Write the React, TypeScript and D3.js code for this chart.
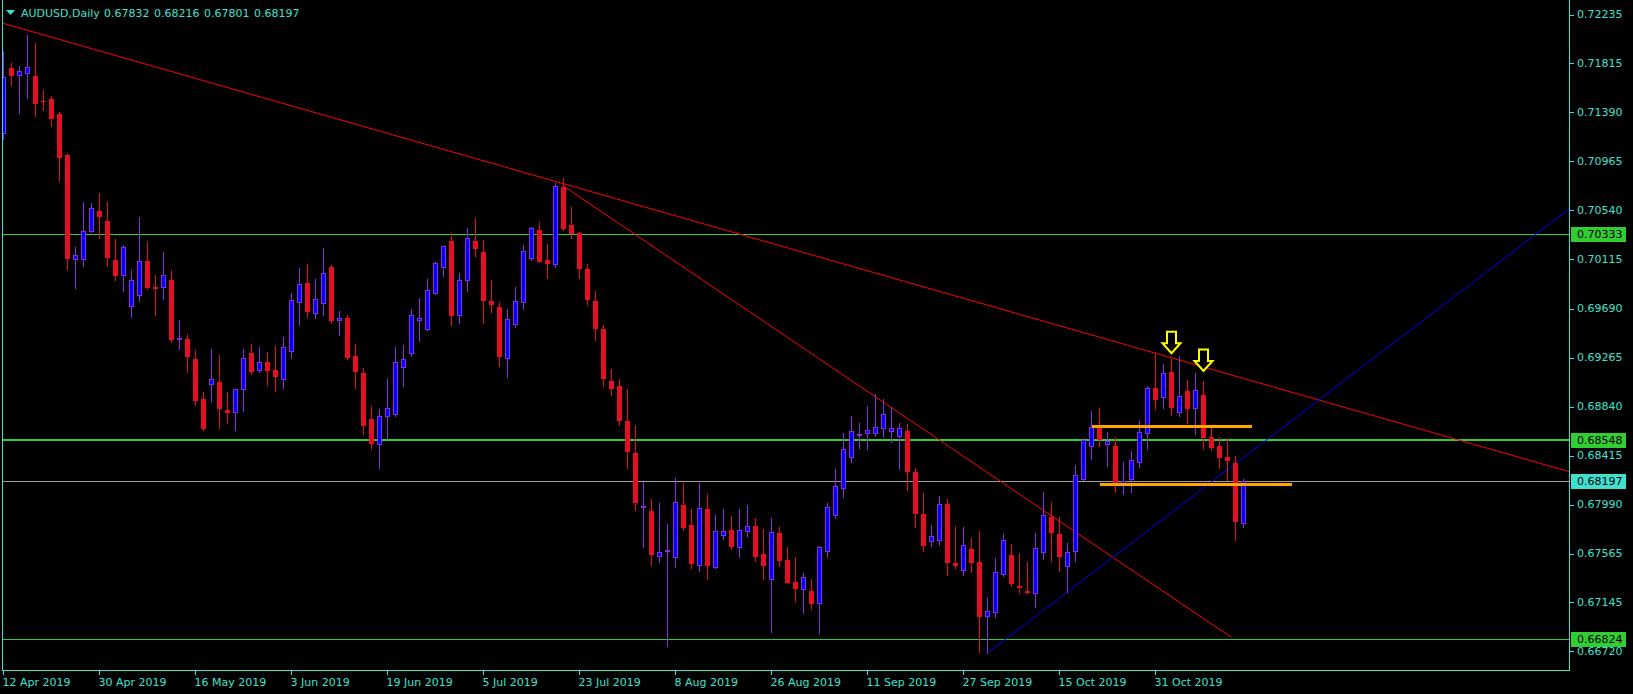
import React from "react";
import * as d3 from "d3";

// ---- Data (AUDUSD daily) ----
const symbolTitle = "AUDUSD,Daily";
const headerValues = [0.67832, 0.68216, 0.67801, 0.68197];

const opens = [
  0.71208, 0.71771, 0.71716, 0.71728, 0.71705, 0.71492, 0.71505, 0.71375, 0.7102, 0.70116,
  0.70122, 0.70359, 0.70535, 0.70448, 0.7011, 0.69978, 0.69709, 0.6981, 0.70102, 0.69874,
  0.69874, 0.69937, 0.69426, 0.69423, 0.69253, 0.68906, 0.69033, 0.69051, 0.68811, 0.68791,
  0.68995, 0.69302, 0.69155, 0.69224, 0.69157, 0.69082, 0.69319, 0.69744, 0.69908, 0.69654,
  0.69735, 0.70047, 0.69588, 0.69605, 0.69276, 0.69129, 0.6873, 0.68514, 0.68756, 0.68773,
  0.69186, 0.69302, 0.69588, 0.69515, 0.69824, 0.70052, 0.70275, 0.69636, 0.69935, 0.70275,
  0.7018, 0.69755, 0.69703, 0.69264, 0.69558, 0.69744, 0.7013, 0.7037, 0.7011, 0.70078,
  0.70743, 0.70414, 0.70344, 0.70032, 0.69755, 0.69513, 0.69062, 0.69019, 0.68715, 0.68438,
  0.67973, 0.67936, 0.67548, 0.67589, 0.6754, 0.67988, 0.67814, 0.6747, 0.67953, 0.67453,
  0.6773, 0.67771, 0.67626, 0.6776, 0.67806, 0.67563, 0.67349, 0.67745, 0.67514, 0.67323,
  0.67256, 0.67243, 0.67136, 0.67592, 0.67904, 0.68132, 0.68401, 0.68597, 0.68609, 0.68609,
  0.68652, 0.68631, 0.68583, 0.68626, 0.68271, 0.67907, 0.67678, 0.67682, 0.67994, 0.67483,
  0.67422, 0.67604, 0.67494, 0.67029, 0.67058, 0.67394, 0.67552, 0.67283, 0.6724, 0.67223,
  0.67578, 0.67881, 0.67734, 0.67462, 0.67586, 0.68215, 0.68501, 0.68666, 0.68514, 0.68499,
  0.68181, 0.68215, 0.68363, 0.68609, 0.68999, 0.68921, 0.69137, 0.68791, 0.68973, 0.68825,
  0.68938, 0.68575, 0.68496, 0.68401, 0.68349, 0.67832,
];
const highs = [
  0.71921, 0.71815, 0.71791, 0.7206, 0.71993, 0.71583, 0.71529, 0.71393, 0.71025, 0.70223,
  0.70613, 0.70604, 0.70691, 0.70613, 0.70292, 0.7024, 0.70024, 0.70483, 0.70266, 0.6998,
  0.7018, 0.70024, 0.69591, 0.69469, 0.69331, 0.68967, 0.69339, 0.69287, 0.68964, 0.68995,
  0.69339, 0.69383, 0.69357, 0.69313, 0.69365, 0.69443, 0.69822, 0.70041, 0.70076, 0.69946,
  0.70214, 0.70064, 0.69669, 0.69634, 0.69383, 0.69172, 0.68845, 0.68817, 0.69088, 0.69357,
  0.69374, 0.69686, 0.69781, 0.69946, 0.7009, 0.70229, 0.70344, 0.69998, 0.70388, 0.70474,
  0.70284, 0.69937, 0.69746, 0.69686, 0.69876, 0.7024, 0.70394, 0.70442, 0.70249, 0.70775,
  0.70821, 0.7057, 0.70353, 0.70076, 0.69842, 0.69547, 0.69166, 0.69079, 0.68993, 0.68681,
  0.6819, 0.6804, 0.68005, 0.67823, 0.68222, 0.68178, 0.67953, 0.68178, 0.68083, 0.67901,
  0.67953, 0.67892, 0.67953, 0.67988, 0.67875, 0.6778, 0.67875, 0.67797, 0.67626, 0.6754,
  0.67399, 0.67349, 0.67632, 0.68005, 0.683, 0.68612, 0.68759, 0.68696, 0.68845, 0.68949,
  0.68904, 0.68834, 0.68696, 0.68687, 0.68308, 0.68089, 0.67814, 0.68066, 0.68037, 0.67806,
  0.67797, 0.67702, 0.6776, 0.67179, 0.67526, 0.67734, 0.6765, 0.67569, 0.67491, 0.67743,
  0.68098, 0.68011, 0.67881, 0.67656, 0.68332, 0.68566, 0.68802, 0.68825, 0.68618, 0.68575,
  0.68358, 0.68455, 0.68715, 0.69016, 0.69293, 0.69207, 0.6925, 0.69279, 0.69068, 0.69129,
  0.69062, 0.68661, 0.68575, 0.68566, 0.6841, 0.68216,
];
const lows = [
  0.71156, 0.71627, 0.71387, 0.71517, 0.71361, 0.7141, 0.71274, 0.70797, 0.70035, 0.6987,
  0.70061, 0.7035, 0.70304, 0.70061, 0.6994, 0.69842, 0.69619, 0.69758, 0.69856, 0.69636,
  0.69775, 0.69403, 0.69339, 0.69143, 0.68854, 0.68638, 0.68891, 0.68657, 0.68701, 0.68638,
  0.68805, 0.69125, 0.69143, 0.69027, 0.68978, 0.69004, 0.69264, 0.69547, 0.69619, 0.6961,
  0.69636, 0.69567, 0.69463, 0.6925, 0.69004, 0.68605, 0.68476, 0.68311, 0.68562, 0.68761,
  0.69021, 0.69281, 0.69411, 0.69504, 0.69816, 0.69972, 0.6955, 0.69567, 0.69844, 0.70148,
  0.69565, 0.6966, 0.69192, 0.69099, 0.69532, 0.69688, 0.70113, 0.70096, 0.69957, 0.70052,
  0.7037, 0.70304, 0.69957, 0.69723, 0.69417, 0.69021, 0.68941, 0.68681, 0.68311, 0.67944,
  0.67626, 0.67468, 0.67496, 0.66769, 0.67453, 0.67774, 0.67445, 0.67419, 0.67349, 0.67445,
  0.67696, 0.67609, 0.6754, 0.67722, 0.67505, 0.67349, 0.6689, 0.67462, 0.67315, 0.67159,
  0.67055, 0.67089, 0.66876, 0.67535, 0.67878, 0.6806, 0.68363, 0.68484, 0.68476, 0.68588,
  0.68579, 0.68536, 0.68302, 0.6812, 0.678, 0.67592, 0.67635, 0.67644, 0.67384, 0.67445,
  0.67384, 0.6741, 0.66717, 0.66703, 0.6702, 0.67375, 0.67289, 0.67225, 0.67223, 0.67101,
  0.67522, 0.67505, 0.67419, 0.67236, 0.67505, 0.68207, 0.68389, 0.68501, 0.68328, 0.68103,
  0.68086, 0.68103, 0.6832, 0.68476, 0.68817, 0.68831, 0.68765, 0.68761, 0.68696, 0.68605,
  0.6847, 0.68462, 0.68311, 0.68207, 0.67687, 0.67801,
];
const closes = [
  0.71693, 0.71713, 0.71745, 0.7178, 0.71473, 0.71484, 0.71343, 0.71005, 0.7013, 0.70151,
  0.70359, 0.70558, 0.70494, 0.70139, 0.69983, 0.7022, 0.69935, 0.70099, 0.69879, 0.69865,
  0.69978, 0.69428, 0.69432, 0.69281, 0.689, 0.68657, 0.69077, 0.68831, 0.68796, 0.6899,
  0.69259, 0.69151, 0.69224, 0.6916, 0.69108, 0.69354, 0.69761, 0.699, 0.69669, 0.6977,
  0.69995, 0.69593, 0.69605, 0.69273, 0.69151, 0.68683, 0.68522, 0.68756, 0.68825, 0.69224,
  0.6925, 0.69631, 0.69605, 0.6985, 0.70082, 0.70229, 0.69634, 0.69935, 0.70298, 0.70217,
  0.69766, 0.69732, 0.69281, 0.69597, 0.69755, 0.70188, 0.70385, 0.70102, 0.70087, 0.70752,
  0.70388, 0.70344, 0.70044, 0.69775, 0.69524, 0.69091, 0.69004, 0.68724, 0.68455, 0.68016,
  0.67979, 0.67566, 0.67578, 0.67595, 0.68014, 0.678, 0.67488, 0.67962, 0.6747, 0.67762,
  0.67762, 0.67635, 0.67771, 0.67806, 0.67548, 0.6747, 0.67754, 0.67514, 0.67323, 0.67271,
  0.67361, 0.67141, 0.67621, 0.67968, 0.6815, 0.6847, 0.68626, 0.68599, 0.68635, 0.68661,
  0.68773, 0.68652, 0.68652, 0.68285, 0.67921, 0.67644, 0.67716, 0.67994, 0.67491, 0.6747,
  0.67639, 0.67496, 0.67029, 0.67067, 0.67405, 0.67682, 0.67315, 0.67277, 0.67234, 0.67613,
  0.67899, 0.67756, 0.67548, 0.67578, 0.68245, 0.68548, 0.68666, 0.68557, 0.6854, 0.68181,
  0.68198, 0.68375, 0.68618, 0.68999, 0.68904, 0.69129, 0.68839, 0.68929, 0.68831, 0.68981,
  0.68575, 0.68493, 0.68406, 0.68375, 0.67852, 0.68197,
];

const priceTicks = [
  0.72235, 0.71815, 0.7139, 0.70965, 0.7054, 0.70115, 0.6969, 0.69265, 0.6884, 0.68415,
  0.6799, 0.67565, 0.67145, 0.6672,
];
const dateTickLabels = [
  "12 Apr 2019", "30 Apr 2019", "16 May 2019", "3 Jun 2019", "19 Jun 2019", "5 Jul 2019",
  "23 Jul 2019", "8 Aug 2019", "26 Aug 2019", "11 Sep 2019", "27 Sep 2019", "15 Oct 2019",
  "31 Oct 2019",
];

const greenLevels = [0.70333, 0.68548, 0.66824];
const greenLevelWidths = [1, 2, 1];
const lastPrice = 0.68197;

// trend lines as [candleIndex, price] anchors
const redTrendA = [[0, 0.7216], [70, 0.70771]];
const redTrendB = [[70, 0.70751], [153.5, 0.6684]];
const blueTrend = [[123, 0.66705], [155, 0.68399]];
const orangeStarts = [136, 137];
const orangeEnds = [156, 161];
const orangePrices = [0.6867, 0.68167];
const arrowIdx = [146, 150];
const arrowPrices = [0.69302, 0.69149];

// ---- Layout / style ----
const W = 1633;
const H = 694;
const LEFT = 2.5;
const RIGHT = 1569.5;
const BOTTOM = 670.5;
const AXIS = "#40E0D0";
const FONT = "'DejaVu Sans', Verdana, sans-serif";

export default function App() {
  const n = opens.length;
  const x = d3.scaleLinear().domain([0, 195.6875]).range([3.5, 1569]);
  const y = d3.scaleLinear().domain([0.66558, 0.72363]).range([670, 0]);
  const yp = (v: number) => Math.round(y(v));

  const fmtDate = d3.timeFormat("%-d %b %Y");
  const dates = d3
    .timeDay.range(new Date(2019, 3, 12), new Date(2019, 11, 31))
    .filter((d) => d.getDay() !== 0 && d.getDay() !== 6)
    .slice(0, n);
  const dateTicks = dateTickLabels.map((lbl) => ({
    lbl,
    i: dates.findIndex((d) => fmtDate(d) === lbl),
  }));

  const iRight = x.invert(RIGHT);
  const iLeft = x.invert(LEFT);
  const lineThrough = (a: number[][], i0: number, i1: number) => {
    const slope = (a[1][1] - a[0][1]) / (a[1][0] - a[0][0]);
    const p = (i: number) => a[0][1] + slope * (i - a[0][0]);
    return { x1: x(i0), y1: y(p(i0)), x2: x(i1), y2: y(p(i1)) };
  };
  const rA = lineThrough(redTrendA, iLeft, iRight);
  const rB = lineThrough(redTrendB, redTrendB[0][0], redTrendB[1][0]);
  const bL = lineThrough(blueTrend, blueTrend[0][0], iRight);

  const arrowPath = (tx: number, ty: number) =>
    `M${tx - 4.5},${ty - 21.5}L${tx + 4.5},${ty - 21.5}L${tx + 4.5},${ty - 10}L${tx + 9},${ty - 10}L${tx},${ty}L${tx - 9},${ty - 10}L${tx - 4.5},${ty - 10}Z`;

  const candles = d3.range(n).map((i) => {
    const cx = x(i);
    const o = opens[i], c = closes[i];
    const bull = c >= o;
    const top = Math.min(yp(o), yp(c));
    const bot = Math.max(yp(o), yp(c));
    const body = bull ? "#0000FF" : "#E0102B";
    const line = bull ? "#8A2BE2" : "#E8101E";
    return (
      <g key={i}>
        <line x1={cx} x2={cx} y1={yp(highs[i])} y2={yp(lows[i]) + 1} stroke={line} strokeWidth={1} />
        {bot - top < 1 ? (
          <line x1={cx - 2.5} x2={cx + 2.5} y1={top + 0.5} y2={top + 0.5} stroke={line} strokeWidth={1} />
        ) : (
          <rect x={cx - 2} y={top + 0.5} width={4} height={bot - top} fill={body} stroke={line} strokeWidth={1} />
        )}
      </g>
    );
  });

  return (
    <div style={{ position: "absolute", left: 0, top: 0, width: W, height: H, background: "#000" }}>
      <svg width={W} height={H} style={{ display: "block", background: "#000" }} fontFamily={FONT}>
        <defs>
          <clipPath id="plot">
            <rect x={3} y={0} width={RIGHT - 3.5} height={BOTTOM - 0.5} />
          </clipPath>
        </defs>
        <rect x={0} y={0} width={W} height={H} fill="#000" />

        <g clipPath="url(#plot)" shapeRendering="crispEdges">
          {greenLevels.map((v, k) => (
            <line
              key={"g" + k}
              x1={LEFT}
              x2={RIGHT}
              y1={greenLevelWidths[k] === 2 ? yp(v) : yp(v) + 0.5}
              y2={greenLevelWidths[k] === 2 ? yp(v) : yp(v) + 0.5}
              stroke="#32CD32"
              strokeWidth={greenLevelWidths[k]}
            />
          ))}
          <line x1={LEFT} x2={RIGHT} y1={yp(lastPrice) + 0.5} y2={yp(lastPrice) + 0.5} stroke="#A0A0A0" strokeWidth={1} />
        </g>

        <g clipPath="url(#plot)">
          <line {...rA} stroke="#FF0000" strokeWidth={1} />
          <line {...rB} stroke="#FF0000" strokeWidth={1} />
          <line {...bL} stroke="#0000FF" strokeWidth={1} />
        </g>

        <g clipPath="url(#plot)" shapeRendering="crispEdges">
          {candles}
        </g>

        <g clipPath="url(#plot)" shapeRendering="crispEdges">
          {orangePrices.map((p, k) => (
            <line
              key={"o" + k}
              x1={x(orangeStarts[k])}
              x2={x(orangeEnds[k])}
              y1={yp(p) + 0.5}
              y2={yp(p) + 0.5}
              stroke="#FFA500"
              strokeWidth={3}
            />
          ))}
        </g>

        <g clipPath="url(#plot)">
          {arrowIdx.map((ai, k) => (
            <path
              key={"a" + k}
              d={arrowPath(x(ai), y(arrowPrices[k]))}
              fill="#000"
              stroke="#FFFF00"
              strokeWidth={2}
              strokeLinejoin="miter"
            />
          ))}
        </g>

        {/* frame */}
        <g shapeRendering="crispEdges" stroke={AXIS} strokeWidth={1}>
          <line x1={LEFT} x2={LEFT} y1={0} y2={BOTTOM} />
          <line x1={LEFT} x2={RIGHT} y1={BOTTOM} y2={BOTTOM} />
          <line x1={RIGHT} x2={RIGHT} y1={0} y2={BOTTOM} />
        </g>

        {/* price axis */}
        <g fontSize={11} fill={AXIS}>
          {priceTicks.map((v) => (
            <g key={v}>
              <line x1={RIGHT} x2={RIGHT + 4} y1={yp(v) + 0.5} y2={yp(v) + 0.5} stroke={AXIS} shapeRendering="crispEdges" />
              <text x={1577} y={y(v)} dominantBaseline="central">
                {v.toFixed(5)}
              </text>
            </g>
          ))}
        </g>

        {/* level labels */}
        <g fontSize={11}>
          {greenLevels.map((v) => (
            <g key={"gl" + v}>
              <rect x={1571} y={Math.round(y(v)) - 7} width={55} height={15} fill="#32CD32" />
              <text x={1577} y={y(v) + 0.5} dominantBaseline="central" fill="#000">
                {v.toFixed(5)}
              </text>
            </g>
          ))}
          <rect x={1571} y={Math.round(y(lastPrice)) - 7} width={55} height={15} fill={AXIS} />
          <text x={1577} y={y(lastPrice) + 0.5} dominantBaseline="central" fill="#000">
            {lastPrice.toFixed(5)}
          </text>
        </g>

        {/* date axis */}
        <g fontSize={11} fill={AXIS}>
          {dateTicks.map((t) => (
            <g key={t.lbl}>
              <line x1={x(t.i)} x2={x(t.i)} y1={BOTTOM} y2={BOTTOM + 4} stroke={AXIS} shapeRendering="crispEdges" />
              <text x={x(t.i) - 1} y={682} dominantBaseline="central">
                {t.lbl}
              </text>
            </g>
          ))}
        </g>

        {/* header */}
        <polygon points="6,10 15,10 10.5,15" fill={AXIS} />
        <g fontSize={11} fill={AXIS}>
          <text x={21} y={13} dominantBaseline="central">
            {symbolTitle}
          </text>
          {headerValues.map((v, k) => (
            <text key={"h" + k} x={104 + 50 * k} y={13} dominantBaseline="central">
              {v.toFixed(5)}
            </text>
          ))}
        </g>
      </svg>
    </div>
  );
}
